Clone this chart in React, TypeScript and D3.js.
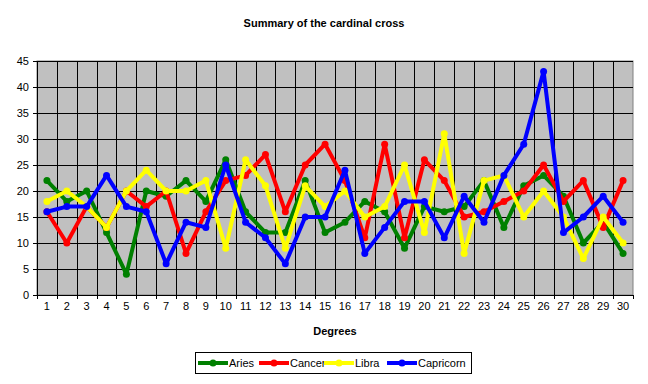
import React from "react";
import * as d3 from "d3";

const degrees = Array.from({ length: 30 }, (_, i) => String(i + 1));
const aries = [22, 18, 20, 12, 4, 20, 19, 22, 18, 26, 16, 12, 12, 22, 12, 14, 18, 16, 9, 17, 16, 17, 22, 13, 21, 23, 19, 10, 14, 8];
const cancer = [16, 10, 17, 13, 20, 17, 20, 8, 16, 22, 23, 27, 16, 25, 29, 22, 11, 29, 11, 26, 22, 15, 16, 18, 20, 25, 18, 22, 13, 22];
const libra = [18, 20, 17, 13, 20, 24, 20, 20, 22, 9, 26, 21, 9, 21, 17, 20, 15, 17, 25, 12, 31, 8, 22, 23, 15, 20, 15, 7, 15, 10];
const capricorn = [16, 17, 17, 23, 17, 16, 6, 14, 13, 25, 14, 11, 6, 15, 15, 24, 8, 13, 18, 18, 11, 19, 14, 23, 29, 43, 12, 15, 19, 14];
const yTicks = [0, 5, 10, 15, 20, 25, 30, 35, 40, 45];

const seriesNames = ["Aries", "Cancer", "Libra", "Capricorn"];
const seriesData = [aries, cancer, libra, capricorn];
const seriesColors = ["#008000", "#FF0000", "#FFFF00", "#0000FF"];

const W = 648;
const H = 384;
const left = 37;
const right = 633;
const top = 61;
const bottom = 295;
const font = "Arial, 'Liberation Sans', sans-serif";

export default function App() {
  const x = d3.scaleBand<string>().domain(degrees).range([left, right]).padding(0);
  const y = d3.scaleLinear().domain([0, 45]).range([bottom, top]);
  const cx = (d: string) => (x(d) as number) + x.bandwidth() / 2;
  const line = d3
    .line<number>()
    .x((_, i) => cx(degrees[i]))
    .y((v) => y(v));

  const boundaries = d3.range(degrees.length + 1).map((i) => left + i * x.bandwidth());

  const legendItems = [
    { lx: 198, tx: 229 },
    { lx: 259, tx: 290 },
    { lx: 324, tx: 355 },
    { lx: 387, tx: 418 },
  ];

  return (
    <svg
      width={W}
      height={H}
      style={{ position: "absolute", left: 0, top: 0, background: "#fff" }}
      fontFamily={font}
    >
      <rect x={0} y={0} width={W} height={H} fill="#fff" />
      <text x={324} y={27} textAnchor="middle" fontSize={11} fontWeight="bold">
        Summary of the cardinal cross
      </text>
      <rect x={left} y={top} width={right - left} height={bottom - top} fill="#C0C0C0" stroke="#808080" strokeWidth={1} />
      {yTicks.slice(1).map((t) => (
        <line key={"h" + t} x1={left} x2={right} y1={Math.round(y(t)) + 0.5} y2={Math.round(y(t)) + 0.5} stroke="#000" strokeWidth={1} />
      ))}
      {boundaries.slice(1, -1).map((b, i) => (
        <line key={"v" + i} x1={Math.round(b) + 0.5} x2={Math.round(b) + 0.5} y1={top} y2={bottom} stroke="#000" strokeWidth={1} />
      ))}
      {/* axes */}
      <line x1={left + 0.5} x2={left + 0.5} y1={top} y2={bottom + 0.5} stroke="#000" />
      <line x1={left} x2={right} y1={bottom + 0.5} y2={bottom + 0.5} stroke="#000" />
      {yTicks.map((t) => (
        <g key={"yt" + t}>
          <line x1={left - 4} x2={left} y1={Math.round(y(t)) + 0.5} y2={Math.round(y(t)) + 0.5} stroke="#000" />
          <text x={left - 8} y={y(t)} dy="0.35em" textAnchor="end" fontSize={11}>
            {t}
          </text>
        </g>
      ))}
      {boundaries.map((b, i) => (
        <line key={"xt" + i} x1={Math.round(b) + 0.5} x2={Math.round(b) + 0.5} y1={bottom} y2={bottom + 4} stroke="#000" />
      ))}
      {degrees.map((d) => (
        <text key={"xl" + d} x={cx(d)} y={306} dy="0.35em" textAnchor="middle" fontSize={11}>
          {d}
        </text>
      ))}
      <text x={(left + right) / 2} y={331} dy="0.35em" textAnchor="middle" fontSize={11} fontWeight="bold">
        Degrees
      </text>
      {seriesData.map((s, si) => (
        <g key={"s" + si}>
          <path d={line(s) || ""} fill="none" stroke={seriesColors[si]} strokeWidth={4} strokeLinejoin="round" />
          {s.map((v, i) => (
            <circle key={i} cx={cx(degrees[i])} cy={y(v)} r={3.5} fill={seriesColors[si]} />
          ))}
        </g>
      ))}
      <rect x={195.5} y={352.5} width={276} height={21} fill="#fff" stroke="#000" strokeWidth={1} />
      {seriesNames.map((n, i) => (
        <g key={"lg" + n}>
          <line x1={legendItems[i].lx} x2={legendItems[i].lx + 30} y1={363} y2={363} stroke={seriesColors[i]} strokeWidth={4} />
          <circle cx={legendItems[i].lx + 15} cy={363} r={3.5} fill={seriesColors[i]} />
          <text x={legendItems[i].tx} y={363} dy="0.35em" fontSize={11}>
            {n}
          </text>
        </g>
      ))}
    </svg>
  );
}
